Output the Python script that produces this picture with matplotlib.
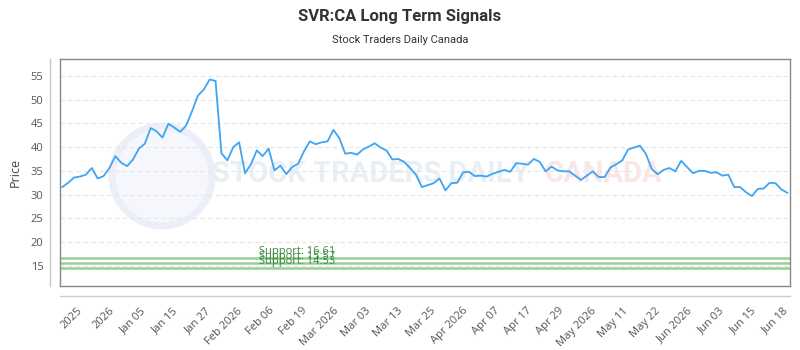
import matplotlib
matplotlib.use("Agg")
import matplotlib.pyplot as plt
from matplotlib.lines import Line2D
from matplotlib.patches import Circle
from matplotlib.transforms import IdentityTransform
import numpy as np

title = "SVR:CA Long Term Signals"
subtitle = "Stock Traders Daily Canada"

prices = [
    31.6, 32.5, 33.6, 33.8, 34.2, 35.6, 33.4, 33.9, 35.6, 38.1, 36.7, 36.0, 37.4, 39.7, 40.7,
    44.0, 43.3, 42.0, 44.9, 44.1, 43.2, 44.5,
    47.5, 50.8, 52.1, 54.2, 53.9, 38.7, 37.2, 40.0, 41.0, 34.5, 36.4, 39.3, 38.1, 39.7, 35.1,
    36.1, 34.3, 35.8, 36.5, 39.1, 41.2,
    40.6, 41.0, 41.2, 43.6, 41.9, 38.6, 38.8, 38.4, 39.5, 40.1, 40.8, 39.9, 39.3, 37.4, 37.5,
    36.9, 35.6, 34.2, 31.6, 32.0, 32.4,
    33.4, 30.9, 32.4, 32.5, 34.7, 34.8, 33.9, 34.0, 33.8, 34.4, 34.8, 35.2, 34.8, 36.6, 36.5,
    36.3, 37.5, 36.9, 34.9, 35.9, 35.1,
    34.9, 34.9, 34.0, 33.1, 34.0, 34.9, 33.7, 33.7, 35.7, 36.4, 37.2, 39.5, 39.9, 40.3, 38.6,
    35.4, 34.3, 35.2, 35.6, 34.9, 37.1,
    35.8, 34.5, 35.0, 35.0, 34.6, 34.7, 34.0, 34.2, 31.6, 31.6, 30.5, 29.7, 31.2, 31.3, 32.5,
    32.4, 31.1, 30.4,
]

tick_labels = ["2025", "2026", "Jan 05", "Jan 15", "Jan 27", "Feb 2026", "Feb 06", "Feb 19",
               "Mar 2026", "Mar 03", "Mar 13", "Mar 25", "Apr 2026", "Apr 07", "Apr 17",
               "Apr 29", "May 2026", "May 11", "May 22", "Jun 2026", "Jun 03", "Jun 15",
               "Jun 18"]

support_levels = [16.61, 15.57, 14.53]
support_labels = ["Support: 16.61", "Support: 15.57", "Support: 14.53"]
y_ticks = [15, 20, 25, 30, 35, 40, 45, 50, 55]

plt.rcParams['font.family'] = ['Open Sans', 'DejaVu Sans']

fig = plt.figure(figsize=(8, 3.5), dpi=100)
ax = fig.add_axes([60/800, 1-286/350, 730/800, (286-59.3)/350])

n = len(prices)
x = np.arange(n)

# watermark
wm_font = ['Liberation Sans Narrow', 'Roboto', 'DejaVu Sans']
ax.text((530-60)/730, 1-(174-59.3)/226.7, "STOCK TRADERS DAILY", transform=ax.transAxes,
        ha='right', va='center', fontsize=21, family=wm_font, fontweight='bold',
        color='#eaeef5', zorder=0.5, clip_on=True)
ax.text((545-60)/730, 1-(174-59.3)/226.7, "CANADA", transform=ax.transAxes,
        ha='left', va='center', fontsize=21, family=wm_font, fontweight='bold',
        color='#fbe6e6', zorder=0.5, clip_on=True)
circ = Circle((162, 350-176), 50, transform=IdentityTransform(), facecolor='#f6f7fc',
              edgecolor='#eceff7', linewidth=5, zorder=0.4)
ax.add_artist(circ)

ax.plot(x, prices, color='#3da5f4', linewidth=1.3, zorder=3)

for lvl in support_levels:
    ax.axhline(lvl, color='#96d096', linewidth=1.8, zorder=2)
for lvl, lab in zip(support_levels, support_labels):
    ax.text(33.3, lvl + 0.3, lab, color='#3a8a3a', fontsize=8, va='bottom', ha='left', zorder=4)

ax.set_xlim(-0.39, n - 1 + 0.46)
ax.set_ylim(10.8, 58.45)
ax.set_yticks(y_ticks)
ax.set_yticklabels([str(v) for v in y_ticks])
ax.grid(axis='y', color='#e6e6e6', linestyle=(0, (4, 3)), linewidth=0.8, zorder=1)
ax.set_axisbelow(True)

tick_pos = np.linspace(2.4, 122.3, len(tick_labels))
ax.set_xticks(tick_pos)
ax.set_xticklabels(tick_labels, rotation=45, ha='right', rotation_mode='anchor')
ax.tick_params(axis='x', length=0, pad=14, labelsize=8, labelcolor='#555555')
ax.tick_params(axis='y', length=0, pad=12, labelsize=8, labelcolor='#555555')

for s in ax.spines.values():
    s.set_color('#888888')
    s.set_linewidth(1)

ax.set_ylabel("Price", fontsize=9, color='#444444', labelpad=6)

fig.add_artist(Line2D([50/800, 50/800], [1-59/350, 1-286/350], color='#c8c8c8', linewidth=1))
fig.add_artist(Line2D([60/800, 790/800], [1-296/350, 1-296/350], color='#cccccc', linewidth=1))

fig.text(0.5, 1-16/350, title, ha='center', va='center', fontsize=12, fontweight='bold',
         family=['Roboto', 'DejaVu Sans'], color='#333333')
fig.text(0.5, 1-40/350, subtitle, ha='center', va='center', fontsize=8,
         family=['Roboto', 'DejaVu Sans'], color='#333333')

fig.savefig("out.png", dpi=100)
